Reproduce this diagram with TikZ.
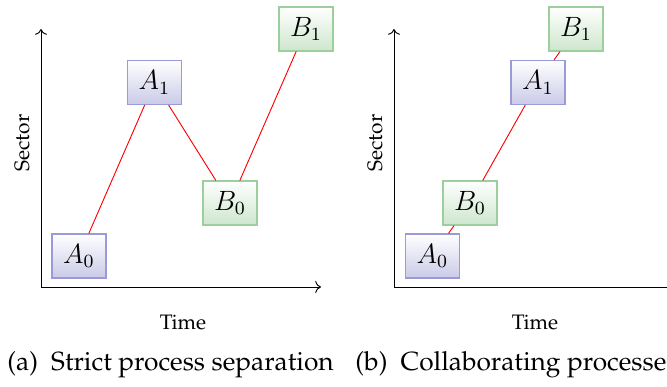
\documentclass[tikz,border=0pt]{standalone}
\usepackage[T1]{fontenc}
\renewcommand{\rmdefault}{ppl}
\usetikzlibrary{arrows.meta}
\definecolor{aborder}{HTML}{9A9AD8}
\definecolor{abottom}{HTML}{CACAE8}
\definecolor{bborder}{HTML}{9CCF9C}
\definecolor{bbottom}{HTML}{CDE6CD}
\tikzset{
  abox/.style={draw=aborder, top color=white, bottom color=abottom, minimum width=23.2pt, minimum height=18.9pt, inner sep=0pt, line width=0.5pt, font=\fontsize{12}{14}\selectfont},
  bbox/.style={draw=bborder, top color=white, bottom color=bbottom, minimum width=23.2pt, minimum height=18.9pt, inner sep=0pt, line width=0.5pt, font=\fontsize{12}{14}\selectfont},
  link/.style={red, line width=0.4pt},
  axis/.style={->, line width=0.4pt},
  lbl/.style={font=\small, inner sep=0pt},
  captext/.style={anchor=west, inner sep=0pt, font=\fontsize{11.3}{13}\selectfont}
}
\begin{document}
\begin{tikzpicture}[x=0.43pt, y=-0.43pt]
\useasboundingbox (0,0) rectangle (667,386);
\clip (0,0) rectangle (667,386);
% panel (a)
\coordinate (ao) at (41,287);
\coordinate (ay) at (41,29);
\coordinate (ax) at (321,287);
\draw[axis] (ao) -- (ay);
\draw[axis] (ao) -- (ax);
\node[lbl, rotate=90] (asec) at (22,143) {Sector};
\node[lbl] (atime) at (183,322) {Time};
\node[abox] (aA0) at (79,256) {$A_0$};
\node[abox] (aA1) at (154.5,82.5) {$A_1$};
\node[bbox] (aB0) at (230,203) {$B_0$};
\node[bbox] (aB1) at (306,29) {$B_1$};
\draw[link] (aA0) -- (aA1);
\draw[link] (aA1) -- (aB0);
\draw[link] (aB0) -- (aB1);
\node[captext] (acap) at (7,365) {(a)\enspace Strict process separation};
% panel (b)
\coordinate (bo) at (394,287);
\coordinate (by) at (394,29);
\coordinate (bx) at (674,287);
\draw[axis] (bo) -- (by);
\draw[axis] (bo) -- (bx);
\node[lbl, rotate=90] (bsec) at (375,143) {Sector};
\node[lbl] (btime) at (535,322) {Time};
\node[abox] (bA0) at (432.5,256) {$A_0$};
\node[bbox] (bB0) at (470,203) {$B_0$};
\node[abox] (bA1) at (538,82.5) {$A_1$};
\node[bbox] (bB1) at (576,29) {$B_1$};
\draw[link] (bA0) -- (bB0);
\draw[link] (bB0) -- (bA1);
\draw[link] (bA1) -- (bB1);
\node[captext] (bcap) at (355,365) {(b)\enspace Collaborating processes};
\end{tikzpicture}
\end{document}
